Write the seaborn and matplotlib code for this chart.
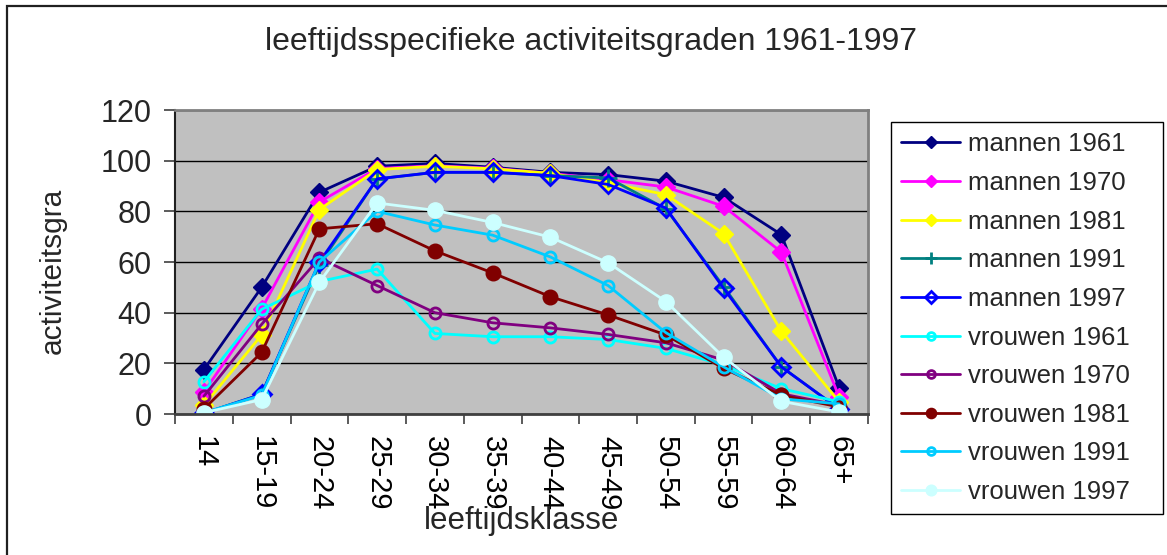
import matplotlib
matplotlib.use("Agg")
import matplotlib.pyplot as plt
from matplotlib.patches import Rectangle
import seaborn as sns
import pandas as pd

categories = ["14", "15-19", "20-24", "25-29", "30-34", "35-39",
              "40-44", "45-49", "50-54", "55-59", "60-64", "65+"]

mannen_1961 = [17.5, 50.0, 87.5, 97.8, 98.9, 97.4, 95.4, 94.5, 91.9, 85.5, 70.8, 10.4]
mannen_1970 = [8.7, 41.5, 83.7, 96.9, 98.0, 97.0, 95.0, 92.5, 89.6, 82.0, 63.9, 6.7]
mannen_1981 = [3.4, 31.2, 80.7, 96.5, 97.8, 96.8, 95.0, 91.2, 86.6, 71.2, 32.7, 4.8]
mannen_1991 = [0.3, 7.8, 59.0, 92.8, 95.4, 95.4, 94.1, 93.2, 81.0, 50.3, 18.6, 2.0]
mannen_1997 = [0.2, 7.8, 60.0, 92.8, 95.4, 95.4, 94.1, 90.6, 81.3, 49.6, 18.6, 2.0]
vrouwen_1961 = [12.7, 41.3, 52.3, 57.2, 31.8, 30.5, 30.5, 29.4, 25.9, 19.3, 10.0, 4.8]
vrouwen_1970 = [7.0, 35.4, 61.5, 50.7, 40.0, 36.0, 34.0, 31.4, 28.1, 21.3, 8.0, 3.4]
vrouwen_1981 = [2.0, 24.3, 73.1, 75.1, 64.4, 55.7, 46.3, 39.1, 31.2, 18.0, 7.4, 2.8]
vrouwen_1991 = [0.5, 7.4, 60.0, 80.0, 74.6, 70.6, 62.0, 50.7, 32.1, 18.6, 6.0, 4.0]
vrouwen_1997 = [0.5, 5.7, 52.0, 83.3, 80.4, 75.6, 69.8, 59.7, 44.4, 22.4, 5.0, 0.8]

series_names = ["mannen 1961", "mannen 1970", "mannen 1981", "mannen 1991", "mannen 1997",
                "vrouwen 1961", "vrouwen 1970", "vrouwen 1981", "vrouwen 1991", "vrouwen 1997"]
series_values = [mannen_1961, mannen_1970, mannen_1981, mannen_1991, mannen_1997,
                 vrouwen_1961, vrouwen_1970, vrouwen_1981, vrouwen_1991, vrouwen_1997]

title = "leeftijdsspecifieke activiteitsgraden 1961-1997"
xlabel = "leeftijdsklasse"
ylabel = "activiteitsgra"

# styles: color, marker, filled, markersize
styles = {
    "mannen 1961": ("#000080", "D", True, 9),
    "mannen 1970": ("#FF00FF", "D", True, 9),
    "mannen 1981": ("#FFFF00", "D", True, 9),
    "mannen 1991": ("#008080", "+", True, 13),
    "mannen 1997": ("#0000FF", "D", False, 9),
    "vrouwen 1961": ("#00FFFF", "o", False, 8),
    "vrouwen 1970": ("#800080", "o", False, 8),
    "vrouwen 1981": ("#800000", "o", True, 10.5),
    "vrouwen 1991": ("#00CCFF", "o", False, 8),
    "vrouwen 1997": ("#CCFFFF", "o", True, 11),
}

sns.set_theme(style="white")
plt.rcParams["font.family"] = ["Liberation Sans", "DejaVu Sans"]

fig = plt.figure(figsize=(11.67, 5.55), dpi=100)
ax = fig.add_axes([175 / 1167, 1 - 414 / 555, (868 - 175) / 1167, (414 - 110) / 555])
ax.set_facecolor("#C0C0C0")

for name, vals in zip(series_names, series_values):
    df = pd.DataFrame({"klasse": categories, "waarde": vals})
    color, marker, filled, ms = styles[name]
    kw = dict(color=color, marker=marker, markersize=ms, linewidth=2.0,
              markeredgecolor=color, markeredgewidth=2.0 if not filled or marker == "+" else 1.0,
              markerfacecolor=color if filled else "none")
    sns.lineplot(data=df, x="klasse", y="waarde", ax=ax, sort=False, label=name, **kw)

ax.set_xlim(-0.5, len(categories) - 0.5)
ax.set_ylim(0, 120)
ax.set_yticks(range(0, 121, 20))
ax.set_xticks(range(len(categories)))
ax.set_xticklabels(categories, rotation=-90, ha="center", va="top")
ax.set_xticks([i + 0.5 for i in range(-1, len(categories))], minor=True)
ax.tick_params(axis="x", which="major", length=0, pad=16, labelsize=21, colors="black")
ax.tick_params(axis="x", which="minor", length=7, width=1.2, color="#404040", bottom=True)
ax.tick_params(axis="y", which="major", length=8, width=1.2, color="#404040",
               pad=9, labelsize=22, left=True)
ax.set_xlabel("")
ax.set_ylabel("")

ax.yaxis.grid(True, color="black", linewidth=1.0)
ax.xaxis.grid(False)
ax.set_axisbelow(True)
for side in ["top", "right"]:
    ax.spines[side].set_color("#808080")
    ax.spines[side].set_linewidth(2.0)
ax.spines["left"].set_color("#202020")
ax.spines["left"].set_linewidth(1.5)
ax.spines["bottom"].set_color("#404040")
ax.spines["bottom"].set_linewidth(2.0)

leg = ax.legend(loc="upper left", bbox_to_anchor=(891 / 1167, 1 - 122 / 555, 272 / 1167, 0),
                bbox_transform=fig.transFigure, mode="expand", fontsize=18.5,
                frameon=True, fancybox=False, framealpha=1, edgecolor="black",
                borderpad=0.4, labelspacing=0.57, handlelength=2.3, handletextpad=0.3,
                markerscale=0.7, borderaxespad=0)
leg.get_frame().set_linewidth(1.0)

fig.text(591 / 1167, 1 - 42 / 555, title, ha="center", va="center", fontsize=23)
fig.text(522 / 1167, 1 - 521 / 555, xlabel, ha="center", va="center", fontsize=22.5)
fig.text(53 / 1167, 1 - 271 / 555, ylabel, ha="center", va="center", fontsize=21.5, rotation=90)

# outer chart frame
fig.patches.append(Rectangle((7 / 1167, -0.05), 1.1, 1 - 5.5 / 555 + 0.05,
                             transform=fig.transFigure, fill=False,
                             edgecolor="#202020", linewidth=1.6, zorder=0))

fig.savefig("out.png", dpi=100)
